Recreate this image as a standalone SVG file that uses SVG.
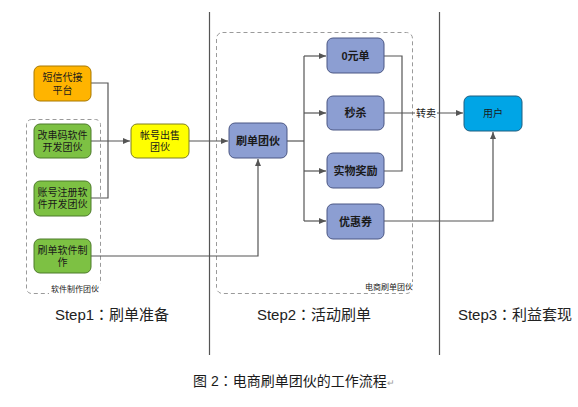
<svg xmlns="http://www.w3.org/2000/svg" width="578" height="407" viewBox="0 0 578 407">
<defs>
<marker id="arr" markerWidth="8" markerHeight="8" refX="7" refY="4" orient="auto" markerUnits="userSpaceOnUse">
<path d="M0,1 L7,4 L0,7 Z" fill="#555"/>
</marker>
<style>
text{font-family:"Liberation Sans","Noto Sans CJK SC",sans-serif;fill:#1a1a1a}
.n{font-size:10px;text-anchor:middle;dominant-baseline:central}
.b{font-size:11px;font-weight:bold;text-anchor:middle;dominant-baseline:central}
.orange{fill:#FFB400;stroke:#A87800;stroke-width:1}
.green{fill:#7DC143;stroke:#4D7A2A;stroke-width:1}
.yellow{fill:#FFFF00;stroke:#7F7F20;stroke-width:1}
.blue{fill:#8C9ED2;stroke:#4B5784;stroke-width:1}
.cyan{fill:#00A5E6;stroke:#1E5E80;stroke-width:1}
.grp{fill:none;stroke:#9a9a9a;stroke-width:1;stroke-dasharray:4,3}
.c{fill:none;stroke:#555;stroke-width:1.2}
.sep{stroke:#555;stroke-width:1.2}
.small{font-size:8px;text-anchor:middle;dominant-baseline:central}
.step{font-size:15px;text-anchor:middle;fill:#222}
.col{font-family:"Noto Sans CJK JP","Noto Sans CJK SC",sans-serif}
</style>
</defs>
<rect width="578" height="407" fill="#fff"/>

<g id="separators">
<line class="sep" x1="209.5" y1="12" x2="209.5" y2="355"/>
<line class="sep" x1="439.5" y1="12" x2="439.5" y2="355"/>
</g>

<g id="group-software">
<rect class="grp" x="26.5" y="119.5" width="74" height="174" rx="5"/>
<rect x="49" y="284" width="52" height="10" fill="#fff"/>
<text class="small" x="75" y="289">软件制作团伙</text>
</g>
<g id="group-ecommerce">
<rect class="grp" x="216.5" y="32.5" width="196" height="261" rx="6"/>
<rect x="363" y="282" width="52" height="10" fill="#fff"/>
<text class="small" x="389" y="287">电商刷单团伙</text>
</g>

<g id="connectors">
<path class="c" d="M91,83 H108 V198 H91"/>
<path class="c" d="M91,141 H130" marker-end="url(#arr)"/>
<path class="c" d="M189,141 H228" marker-end="url(#arr)"/>
<path class="c" d="M91,256 H258 V159" marker-end="url(#arr)"/>
<path class="c" d="M287,141 H304"/>
<path class="c" d="M304,56 V221"/>
<path class="c" d="M304,56 H326" marker-end="url(#arr)"/>
<path class="c" d="M304,113 H326" marker-end="url(#arr)"/>
<path class="c" d="M304,171 H326" marker-end="url(#arr)"/>
<path class="c" d="M304,221 H326" marker-end="url(#arr)"/>
<path class="c" d="M384,56 H402 V171 H384"/>
<path class="c" d="M384,113 H463" marker-end="url(#arr)"/>
<path class="c" d="M384,221 H493 V132" marker-end="url(#arr)"/>
<rect x="415" y="106" width="22" height="14" fill="#fff"/>
<text class="n" x="426" y="113">转卖</text>
</g>

<g id="sms">
<rect class="orange" x="34" y="66" width="57" height="35" rx="6"/>
<text class="n" x="62.5" y="77.5">短信代接</text>
<text class="n" x="62.5" y="90">平台</text>
</g>
<g id="imei">
<rect class="green" x="34" y="124" width="57" height="34" rx="6"/>
<text class="n" x="62.5" y="135">改串码软件</text>
<text class="n" x="62.5" y="147.5">开发团伙</text>
</g>
<g id="register">
<rect class="green" x="34" y="181" width="57" height="35" rx="6"/>
<text class="n" x="62.5" y="192">账号注册软</text>
<text class="n" x="62.5" y="204.5">件开发团伙</text>
</g>
<g id="brushsoft">
<rect class="green" x="34" y="239" width="57" height="34" rx="6"/>
<text class="n" x="62.5" y="250">刷单软件制</text>
<text class="n" x="62.5" y="262">作</text>
</g>
<g id="account">
<rect class="yellow" x="131" y="124" width="58" height="34" rx="6"/>
<text class="n" x="160" y="135">帐号出售</text>
<text class="n" x="160" y="147">团伙</text>
</g>
<g id="brushteam">
<rect class="blue" x="229" y="123" width="58" height="35" rx="6"/>
<text class="b" x="258" y="140.5">刷单团伙</text>
</g>
<g id="zero">
<rect class="blue" x="327" y="38" width="57" height="35" rx="6"/>
<text class="b" x="355.5" y="55.5">0元单</text>
</g>
<g id="flash">
<rect class="blue" x="327" y="96" width="57" height="34" rx="6"/>
<text class="b" x="355.5" y="113">秒杀</text>
</g>
<g id="reward">
<rect class="blue" x="327" y="153" width="57" height="35" rx="6"/>
<text class="b" x="355.5" y="170.5">实物奖励</text>
</g>
<g id="coupon">
<rect class="blue" x="327" y="204" width="57" height="35" rx="6"/>
<text class="b" x="355.5" y="221.5">优惠券</text>
</g>
<g id="user">
<rect class="cyan" x="464" y="96" width="58" height="35" rx="6"/>
<text class="n" x="493" y="113.5">用户</text>
</g>

<g id="steps">
<text class="step" x="112" y="320">Step1<tspan class="col">：</tspan>刷单准备</text>
<text class="step" x="314" y="320">Step2<tspan class="col">：</tspan>活动刷单</text>
<text class="step" x="515" y="320">Step3<tspan class="col">：</tspan>利益套现</text>
</g>
<g id="caption">
<text x="193" y="386" font-size="14">图 2<tspan class="col">：</tspan>电商刷单团伙的工作流程<tspan font-size="9" fill="#999">↵</tspan></text>
</g>
</svg>
